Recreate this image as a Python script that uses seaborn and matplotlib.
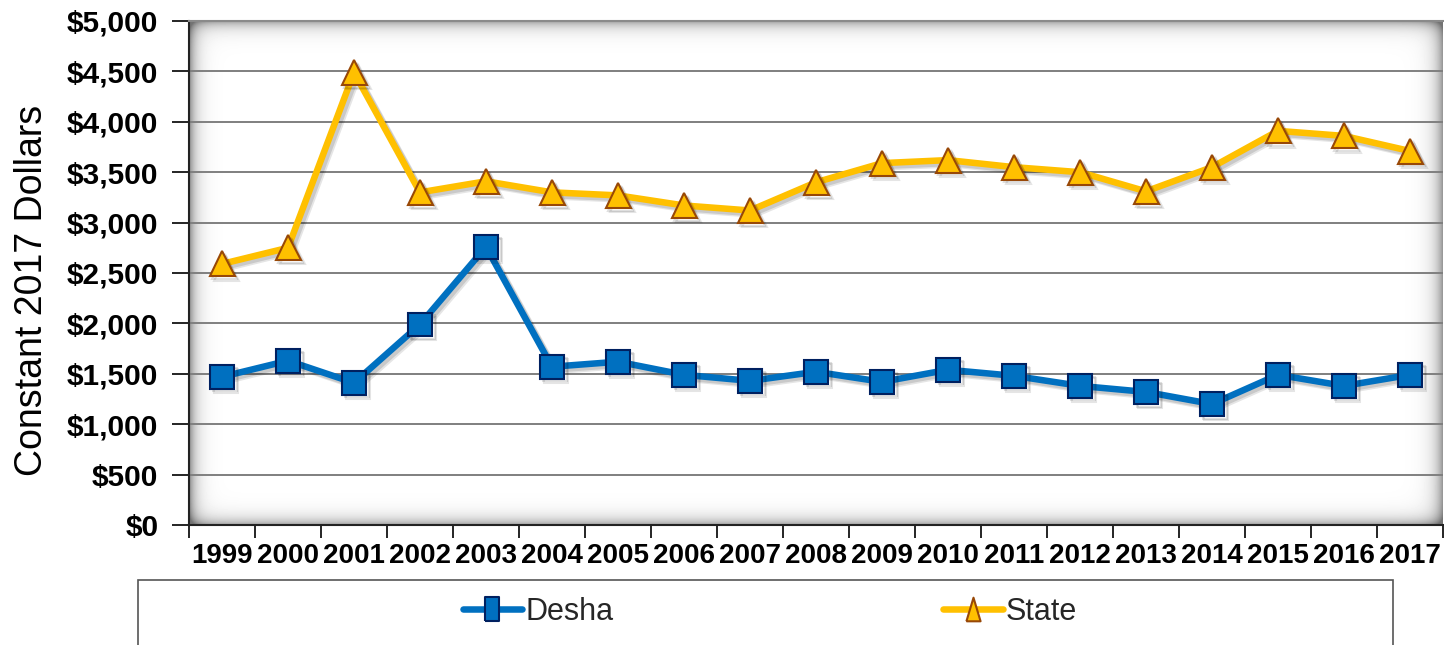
import numpy as np
import pandas as pd
import matplotlib
matplotlib.use("Agg")
import matplotlib.pyplot as plt
import matplotlib.patheffects as pe
from matplotlib.lines import Line2D
from matplotlib.patches import Rectangle
from matplotlib.ticker import FixedLocator, NullFormatter
import seaborn as sns

# Per-pupil spending, constant 2017 dollars
years = ["1999", "2000", "2001", "2002", "2003", "2004", "2005", "2006", "2007", "2008",
         "2009", "2010", "2011", "2012", "2013", "2014", "2015", "2016", "2017"]
desha = [1470, 1630, 1410, 1990, 2760, 1570, 1620, 1490, 1430, 1520,
         1420, 1540, 1480, 1380, 1320, 1200, 1490, 1380, 1490]
state = [2590, 2750, 4490, 3300, 3410, 3300, 3270, 3170, 3120, 3400,
         3590, 3620, 3550, 3500, 3310, 3550, 3910, 3860, 3710]
series_names = ["Desha", "State"]
y_ticks = [0, 500, 1000, 1500, 2000, 2500, 3000, 3500, 4000, 4500, 5000]
y_ticklabels = ["$0", "$500", "$1,000", "$1,500", "$2,000", "$2,500", "$3,000",
                "$3,500", "$4,000", "$4,500", "$5,000"]
y_title = "Constant 2017 Dollars"

sns.set_theme(style="white")
plt.rcParams["font.family"] = ["Liberation Sans", "DejaVu Sans"]

W, H = 1444, 645
fig = plt.figure(figsize=(W / 100, H / 100), dpi=100)
fig.patch.set_facecolor("white")

ax_l, ax_r, ax_t, ax_b = 189, 1443, 21, 525
ax = fig.add_axes([ax_l / W, 1 - ax_b / H, (ax_r - ax_l) / W, (ax_b - ax_t) / H])

# Shaded plot-area background: gray at the edges fading to white
pw, ph = ax_r - ax_l, ax_b - ax_t
xx = np.arange(pw)[None, :]
yy = np.arange(ph)[:, None]
d_left = xx + 0 * yy
d_right = (pw - 1 - xx) + 0 * yy
d_top = yy + 0 * xx
d_bot = (ph - 1 - yy) + 0 * xx
shade = (1
         - 0.45 * np.exp(-d_left / 7.0)
         - 0.40 * np.exp(-d_right / 8.0)
         - 0.35 * np.exp(-d_top / 7.0)
         - 0.35 * np.exp(-d_bot / 7.0))
shade = np.clip(shade, 0.45, 1)
ax.imshow(shade, cmap="gray", vmin=0, vmax=1, extent=(0, 1, 0, 1),
          transform=ax.transAxes, aspect="auto", zorder=0, interpolation="bilinear")

df = pd.DataFrame({
    "pos": list(range(len(years))) * 2,
    "value": desha + state,
    "series": [series_names[0]] * len(years) + [series_names[1]] * len(years),
})

line_colors = {"Desha": "#0070C0", "State": "#FFC000"}
edge_colors = {"Desha": "#002060", "State": "#984807"}
markers = {"Desha": "s", "State": "^"}

shadow = [pe.SimpleLineShadow(offset=(3, -3), shadow_color="black", alpha=0.10),
          pe.SimpleLineShadow(offset=(2, -2), shadow_color="black", alpha=0.12),
          pe.Normal()]

for name in series_names:
    sub = df[df["series"] == name]
    sns.lineplot(data=sub, x="pos", y="value", ax=ax, color=line_colors[name],
                 linewidth=4.7, marker=markers[name], markersize=17 if name == "Desha" else 18,
                 markerfacecolor=line_colors[name], markeredgecolor=edge_colors[name],
                 markeredgewidth=1.5, legend=False, zorder=3)
for ln in ax.lines:
    ln.set_path_effects(shadow)

ax.set_xlim(-0.5, len(years) - 0.5)
ax.set_ylim(0, 5000)

# Gridlines
ax.set_yticks(y_ticks)
ax.set_yticklabels(y_ticklabels, fontsize=21.5, fontweight="bold", color="black")
ax.yaxis.grid(True, color="#7f7f7f", linewidth=1.4, zorder=1)
ax.set_axisbelow(True)
ax.tick_params(axis="y", which="major", direction="out", length=12, width=1.2,
               color="black", pad=10, left=True)

ax.set_xticks(range(len(years)))
ax.set_xticklabels(years, fontsize=20, fontweight="bold", color="black")
ax.xaxis.set_minor_locator(FixedLocator(np.arange(-0.5, len(years), 1.0)))
ax.xaxis.set_minor_formatter(NullFormatter())
ax.tick_params(axis="x", which="major", length=0, pad=13)
ax.tick_params(axis="x", which="minor", direction="out", length=9, width=1.2,
               color="black", bottom=True)

ax.set_xlabel("")
ax.set_ylabel(y_title, fontsize=27, color="black")
ax.yaxis.set_label_coords(-0.111, 0.466)

for side in ["left", "bottom"]:
    ax.spines[side].set_color("#222222")
    ax.spines[side].set_linewidth(1.5)
ax.spines["top"].set_color("#8a8a8a")
ax.spines["top"].set_linewidth(1.5)
ax.spines["right"].set_visible(False)

# Legend box, running off the bottom edge
fig.patches.append(Rectangle((138 / W, -0.05), (1393 - 138) / W, 1 - 580 / H + 0.05,
                             transform=fig.transFigure, facecolor="white",
                             edgecolor="#555555", linewidth=1.2))
legend_markers = {
    "Desha": [(-0.3, -0.5), (0.3, -0.5), (0.3, 0.5), (-0.3, 0.5), (-0.3, -0.5)],
    "State": [(-0.3, -0.5), (0.3, -0.5), (0.0, 0.5), (-0.3, -0.5)],
}
handles = [Line2D([], [], color=line_colors[n], linewidth=4.7, marker=legend_markers[n],
                  markersize=17, markerfacecolor=line_colors[n],
                  markeredgecolor=edge_colors[n], markeredgewidth=1.5)
           for n in series_names]
fig.legend(handles, series_names, loc="center", bbox_to_anchor=(770 / W, 1 - 612 / H),
           ncol=2, frameon=False, fontsize=22, handlelength=1.95, handletextpad=0.1,
           columnspacing=10.8)

fig.savefig("out.png", dpi=100)
